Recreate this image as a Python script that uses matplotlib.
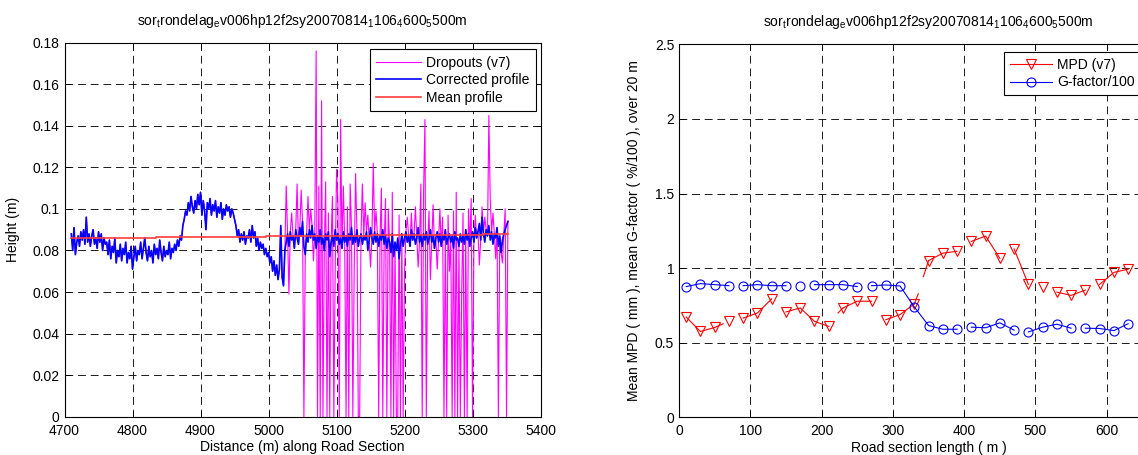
import numpy as np
import matplotlib
matplotlib.use('Agg')
import matplotlib.pyplot as plt
from matplotlib.ticker import FuncFormatter

plt.rcParams['font.family'] = ['Liberation Sans', 'DejaVu Sans']
plt.rcParams['font.size'] = 10
plt.rcParams['axes.linewidth'] = 0.8

#######################################################
# Data - left panel (heights in mm, every 2 m from 4710 m)
#######################################################

profile_start = 4710
profile_step = 2
corrected_mm = [
    # 4710 - 4760
    88, 80, 91, 78, 84, 87, 82, 89, 85, 90, 83, 96, 84, 88, 82, 87, 90, 83, 86, 81,
    89, 84, 88, 80, 86, 83,
    # 4762 - 4800
    84, 78, 85, 76, 82, 79, 86, 74, 80, 77, 83, 75, 81, 78, 84, 74, 79, 76, 82, 71,
    # 4802 - 4866
    77, 82, 75, 80, 78, 84, 76, 81, 86, 79, 75, 82, 77, 80, 74, 83, 78, 81, 76, 85,
    79, 75, 82, 77, 80, 78, 84, 76, 81, 79, 83, 80, 85,
    # 4868 - 4880
    82, 87, 85, 92, 95, 99, 97,
    # 4882 - 4950
    103, 99, 106, 101, 98, 104, 100, 107, 102, 108, 97, 104, 99, 90, 103, 100, 105, 97,
    102, 99, 104, 96, 101, 98, 103, 95, 100, 97, 102, 99, 101, 96, 100, 98, 95,
    # 4952 - 4998
    92, 87, 90, 84, 88, 85, 89, 83, 87, 86, 90, 84, 92, 86, 89, 82, 86, 80, 84, 81,
    83, 78, 81, 77,
    # 5000 - 5024
    79, 74, 77, 70, 75, 68, 73, 66, 71, 92, 67, 63, 80,
    # 5026 - 5352
    84, 88, 82, 89, 85, 87, 81, 90, 86, 83,
    91, 87, 94, 82, 78, 88, 84, 90, 86, 92,
    85, 88, 81, 87, 84, 90, 83, 86, 80, 88,
    85, 89, 77, 84, 87, 82, 90, 85, 88, 83,
    86, 81, 89, 84, 87, 82, 88, 85, 91, 83,
    87, 84, 90, 82, 86, 88, 83, 87, 85, 89,
    80, 85, 91, 86, 83, 89, 84, 88, 82, 87,
    85, 90, 83, 87, 81, 86, 84, 79, 88, 77,
    84, 80, 86, 76, 83, 88, 82, 86, 89, 84,
    87, 82, 90, 85, 88, 83, 86, 91, 84, 87,
    82, 88, 85, 89, 83, 86, 90, 84, 87, 81,
    86, 89, 84, 88, 82, 87, 85, 90, 83, 86,
    88, 84, 87, 81, 89, 85, 86, 82, 88, 84,
    87, 83, 90, 85, 88, 82, 86, 89, 84, 91,
    86, 89, 93, 85, 96, 88, 84, 90, 87, 92,
    85, 89, 83, 88, 86, 91, 82, 87, 79, 85,
    88, 90, 92, 94,
]

# dropout samples in the raw (v7) profile: position (m), height (mm)
dropout_x = [5026, 5030, 5034, 5042, 5048, 5052, 5058, 5062, 5066, 5070,
             5072, 5074, 5076, 5078, 5080, 5084, 5086, 5088, 5090, 5094,
             5096, 5098, 5100, 5102, 5104, 5106, 5110, 5114, 5116, 5118,
             5120, 5124, 5126, 5128, 5132, 5134, 5138, 5142, 5146, 5150,
             5154, 5158, 5162, 5166, 5168, 5172, 5174, 5176, 5180, 5182,
             5184, 5188, 5190, 5192, 5194, 5198, 5200, 5204, 5210, 5216,
             5220, 5224, 5226, 5228, 5230, 5232, 5236, 5238, 5242, 5248,
             5252, 5256, 5258, 5262, 5264, 5266, 5270, 5272, 5274, 5276,
             5278, 5282, 5284, 5286, 5288, 5292, 5294, 5298, 5300, 5304,
             5310, 5314, 5318, 5324, 5326, 5330, 5334, 5338, 5344, 5348,
             5350]
dropout_mm = [111, 59, 98, 112, 109, 0, 106, 100, 75, 176,
              0, 111, 0, 152, 0, 113, 0, 98, 0, 106,
              0, 70, 119, 104, 0, 143, 111, 0, 101, 0,
              112, 0, 72, 117, 0, 0, 112, 103, 97, 72,
              122, 99, 0, 110, 0, 105, 0, 100, 0, 108,
              0, 0, 0, 97, 0, 0, 70, 96, 98, 101,
              72, 112, 0, 108, 143, 0, 99, 66, 102, 71,
              100, 96, 0, 0, 97, 70, 0, 99, 0, 108,
              0, 0, 59, 98, 0, 0, 100, 105, 0, 97,
              73, 101, 96, 145, 105, 98, 76, 0, 74, 100,
              0]

# mean profile levels (mm) between section edges (m)
mean_edges = [4710, 4835, 4997, 5150, 5315, 5352]
mean_mm = [85.9, 86.4, 86.9, 87.4, 88.0]

#######################################################
# Data - right panel
#######################################################

section_x = list(range(10, 631, 20))
mpd = [0.672, 0.575, 0.602, 0.643, 0.665, 0.699, 0.794, 0.706, 0.733, 0.643,
       0.609, 0.733, 0.778, 0.778, 0.654, 0.688, 0.760, 1.050, 1.100, 1.113,
       1.179, 1.215, 1.066, 1.129, 0.891, 0.876, 0.839, 0.817, 0.853, 0.891,
       0.971, 0.993]
gfactor = [0.876, 0.896, 0.889, 0.882, 0.882, 0.889, 0.882, 0.882, 0.882, 0.889,
           0.889, 0.889, 0.876, 0.882, 0.887, 0.880, 0.740, 0.615, 0.590, 0.590,
           0.604, 0.600, 0.633, 0.584, 0.572, 0.604, 0.624, 0.597, 0.597, 0.595,
           0.581, 0.627]
# line is broken after these section indices
mpd_breaks = [2, 3, 6, 10, 13, 16, 19, 22, 24, 25, 28]
gfactor_breaks = [3, 7, 8, 12, 19, 23, 27]
# short loose line pieces: (x0, y0, x1, y1)
mpd_stubs = [(50, 0.602, 62, 0.627), (223, 0.699, 230, 0.733),
             (330, 0.760, 335.6, 0.828), (342.7, 0.943, 350, 1.050)]

title = (r'sor$_\mathregular{t}$rondelag$_\mathregular{e}$v006hp12f2sy20070814'
         r'$_\mathregular{1}$106$_\mathregular{4}$600$_\mathregular{5}$500m')


def broken(xs, ys, breaks):
    bx, by = [], []
    for i, (x, y) in enumerate(zip(xs, ys)):
        bx.append(x)
        by.append(y)
        if i in breaks:
            bx.append(np.nan)
            by.append(np.nan)
    return bx, by


def style_axes(ax, xmax_label=None):
    ax.tick_params(direction='in', top=True, right=True, length=4, width=0.7,
                   labelsize=10)
    ax.tick_params(axis='x', pad=5)
    ax.tick_params(axis='y', pad=3.5)
    ax.grid(True, color='0.1', linewidth=0.7, linestyle=(0, (8, 5)))
    ax.set_axisbelow(True)
    if xmax_label is None:
        ax.xaxis.set_major_formatter(FuncFormatter(lambda v, p: '%g' % v))
    else:
        ax.xaxis.set_major_formatter(
            FuncFormatter(lambda v, p: '%g' % v if v <= xmax_label else ''))
    ax.yaxis.set_major_formatter(FuncFormatter(lambda v, p: '%g' % v))


def style_legend(leg):
    leg.get_frame().set_edgecolor('k')
    leg.get_frame().set_linewidth(0.8)


fig = plt.figure(figsize=(11.38, 4.55), dpi=100)

#######################################################
# Left panel - profile
#######################################################

ax1 = fig.add_axes([0.0567, 0.0842, 0.4183, 0.8220])
profile_x = np.arange(len(corrected_mm)) * profile_step + profile_start
corrected = np.array(corrected_mm) / 1000.0
raw = corrected.copy()
for x, v in zip(dropout_x, dropout_mm):
    raw[(x - profile_start) // profile_step] = v / 1000.0

ax1.plot(profile_x, raw, color='#ff00ff', lw=0.8, label='Dropouts (v7)')
ax1.plot(profile_x, corrected, color='#0000ff', lw=1.2, label='Corrected profile')
ax1.plot(mean_edges, np.array(mean_mm + mean_mm[-1:]) / 1000.0,
         drawstyle='steps-post', color='#ff3c3c', lw=1.2, label='Mean profile')

ax1.set_xlim(4700, 5400)
ax1.set_ylim(0, 0.18)
ax1.set_xticks(np.arange(4700, 5401, 100))
ax1.set_yticks(np.arange(0, 0.181, 0.02))
style_axes(ax1)
ax1.set_xlabel('Distance (m) along Road Section', labelpad=2)
ax1.set_ylabel('Height (m)', labelpad=9)
ax1.set_title(title, fontsize=10, pad=13)
leg1 = ax1.legend(loc='upper right', bbox_to_anchor=(0.990, 0.982), borderaxespad=0,
                  fontsize=10, handlelength=3.2, handletextpad=0.4,
                  labelspacing=0.25, borderpad=0.45, fancybox=False, framealpha=1)
style_legend(leg1)

#######################################################
# Right panel - MPD and G-factor per 20 m
#######################################################

ax2 = fig.add_axes([0.5967, 0.0829, 0.4385, 0.8197])
mx, my = broken(section_x, mpd, mpd_breaks)
gx, gy = broken(section_x, gfactor, gfactor_breaks)
ax2.plot(mx, my, color='#ff0000', lw=0.8)
for x0, y0, x1, y1 in mpd_stubs:
    ax2.plot([x0, x1], [y0, y1], color='#ff0000', lw=0.8)
ax2.plot(section_x, mpd, ls='none', marker='v', ms=7.5, mfc='none', mec='#ff0000', mew=0.8)
ax2.plot(gx, gy, color='#0000ff', lw=0.8)
ax2.plot(section_x, gfactor, ls='none', marker='o', ms=6.5, mfc='none', mec='#0000ff', mew=0.8)
# legend proxies
h1, = ax2.plot([], [], color='#ff0000', lw=0.8, marker='v', ms=7.5, mfc='none', mew=0.8, label='MPD (v7)')
h2, = ax2.plot([], [], color='#0000ff', lw=0.8, marker='o', ms=6.5, mfc='none', mew=0.8, label='G-factor/100')

ax2.set_xlim(0, 700)
ax2.set_ylim(0, 2.5)
ax2.set_xticks(np.arange(0, 701, 100))
ax2.set_yticks(np.arange(0, 2.51, 0.5))
style_axes(ax2, xmax_label=650)
ax2.set_xlabel('Road section length ( m )', labelpad=2)
ax2.set_ylabel('Mean MPD ( mm ), mean G-factor ( %/100 ), over 20 m', labelpad=10)
ax2.set_title(title, fontsize=10, pad=13)
leg2 = ax2.legend(handles=[h1, h2], loc='upper left', bbox_to_anchor=(0.652, 0.979),
                  borderaxespad=0, fontsize=10, handlelength=3.0, handletextpad=0.4,
                  labelspacing=0.25, borderpad=0.42, fancybox=False, framealpha=1)
style_legend(leg2)

fig.savefig('out.png', dpi=100)
